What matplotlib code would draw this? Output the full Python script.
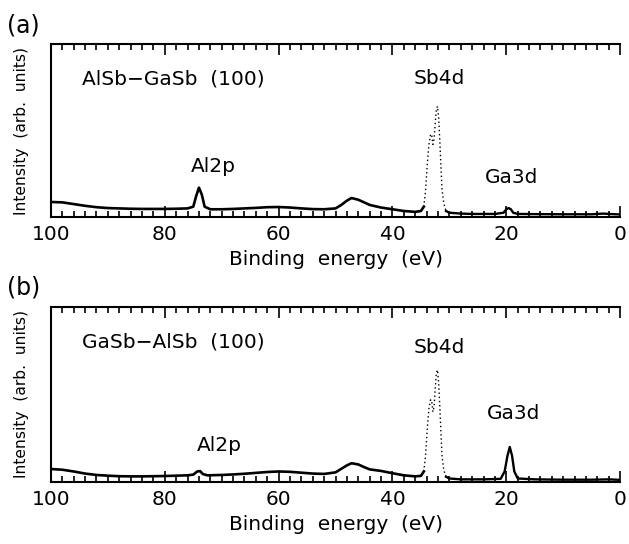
import matplotlib
matplotlib.use("Agg")
import matplotlib.pyplot as plt
from matplotlib.ticker import MultipleLocator

# ---- data (intensity in fraction of panel height) ----
# panel (a): AlSb-GaSb (100), solid background part
energy_a = [100, 98, 96, 94, 92, 90, 88, 86, 84, 82, 80, 78, 76, 75, 74.5, 74, 73.5, 73,
            72, 70, 68, 66, 64, 62, 60, 58, 56, 54, 52, 50, 49, 48, 47.2, 46, 45, 44,
            42, 40, 38, 36, 35, 34.5]
intens_a = [0.087, 0.085, 0.075, 0.065, 0.057, 0.052, 0.050, 0.048, 0.047, 0.047, 0.047,
            0.048, 0.050, 0.060, 0.120, 0.170, 0.130, 0.060, 0.045, 0.045, 0.047, 0.050,
            0.053, 0.057, 0.058, 0.055, 0.050, 0.046, 0.045, 0.050, 0.070, 0.095, 0.110,
            0.100, 0.085, 0.070, 0.055, 0.045, 0.035, 0.030, 0.035, 0.060]
# Sb4d region (drawn dotted in the original)
sb_energy_a = [34.5, 34.2, 33.9, 33.6, 33.3, 33.1, 32.9, 32.7, 32.5, 32.3, 32.1, 31.9,
               31.7, 31.5, 31.3, 31.0, 30.6]
sb_intens_a = [0.060, 0.150, 0.300, 0.420, 0.480, 0.470, 0.420, 0.450, 0.540, 0.620,
               0.640, 0.580, 0.450, 0.300, 0.160, 0.080, 0.035]
tail_energy_a = [30.6, 30, 28, 26, 24, 22, 20.5, 20, 19.6, 19.2, 18.8, 18, 15, 10, 5, 3, 2, 0]
tail_intens_a = [0.035, 0.025, 0.020, 0.018, 0.018, 0.018, 0.025, 0.045, 0.052, 0.045,
                 0.025, 0.018, 0.017, 0.016, 0.016, 0.020, 0.018, 0.015]

# panel (b): GaSb-AlSb (100)
energy_b = [100, 98, 96, 94, 92, 90, 88, 86, 84, 82, 80, 78, 76, 75, 74.3, 73.8, 73.3,
            72.5, 70, 68, 66, 64, 62, 60, 58, 56, 54, 52, 50, 49, 48, 47.2, 46, 45, 44,
            42, 40, 38, 36, 35, 34.5]
intens_b = [0.074, 0.070, 0.060, 0.048, 0.040, 0.036, 0.033, 0.032, 0.032, 0.033, 0.034,
            0.036, 0.038, 0.042, 0.060, 0.062, 0.045, 0.038, 0.040, 0.043, 0.047, 0.052,
            0.057, 0.060, 0.058, 0.053, 0.048, 0.046, 0.055, 0.075, 0.095, 0.107, 0.100,
            0.085, 0.072, 0.063, 0.050, 0.038, 0.032, 0.035, 0.060]
sb_energy_b = [34.5, 34.2, 33.9, 33.6, 33.3, 33.1, 32.9, 32.7, 32.5, 32.3, 32.1, 31.9,
               31.7, 31.5, 31.3, 31.0, 30.6]
sb_intens_b = [0.060, 0.150, 0.300, 0.420, 0.470, 0.460, 0.400, 0.430, 0.530, 0.620,
               0.640, 0.570, 0.440, 0.290, 0.150, 0.070, 0.030]
tail_energy_b = [30.6, 30, 28, 24, 21, 20.3, 19.8, 19.4, 19, 18.6, 18, 15, 10, 5, 2, 0]
tail_intens_b = [0.030, 0.020, 0.015, 0.015, 0.018, 0.060, 0.150, 0.200, 0.150, 0.060,
                 0.020, 0.015, 0.013, 0.013, 0.015, 0.012]

titles = ["AlSb\u2212GaSb  (100)", "GaSb\u2212AlSb  (100)"]
panel_tags = ["(a)", "(b)"]
# label positions (energy, intensity) for each panel
peak_labels_a = [("Al2p", 71.5, 0.29), ("Sb4d", 31.8, 0.80), ("Ga3d", 19.0, 0.23)]
peak_labels_b = [("Al2p", 70.5, 0.21), ("Sb4d", 31.8, 0.77), ("Ga3d", 18.8, 0.39)]

plt.rcParams["font.family"] = "DejaVu Sans"

fig = plt.figure(figsize=(6.29, 5.44), dpi=100)
ax_a = fig.add_axes([0.081, 0.601, 0.905, 0.318])
ax_b = fig.add_axes([0.081, 0.114, 0.905, 0.322])

panels = [
    (ax_a, energy_a, intens_a, sb_energy_a, sb_intens_a, tail_energy_a, tail_intens_a, peak_labels_a),
    (ax_b, energy_b, intens_b, sb_energy_b, sb_intens_b, tail_energy_b, tail_intens_b, peak_labels_b),
]

for i, (ax, e, y, se, sy, te, ty, labels) in enumerate(panels):
    ax.plot(e, y, color="black", lw=1.9)
    ax.plot(se, sy, color="black", lw=1.0, ls=(0, (1, 2)))
    ax.plot(te, ty, color="black", lw=1.7)

    ax.set_xlim(100, 0)
    ax.set_ylim(0, 1)
    ax.xaxis.set_major_locator(MultipleLocator(20))
    ax.xaxis.set_minor_locator(MultipleLocator(2))
    ax.tick_params(axis="x", which="both", direction="in", top=True, bottom=True,
                   width=1.2, labelsize=14.5, pad=6)
    ax.tick_params(axis="x", which="major", length=8)
    ax.tick_params(axis="x", which="minor", length=4)
    ax.set_yticks([])
    ax.spines["right"].set_visible(False)
    for s in ["left", "top", "bottom"]:
        ax.spines[s].set_linewidth(1.5)

    ax.set_xlabel("Binding  energy  (eV)", fontsize=14.5, labelpad=4)
    ax.set_ylabel("Intensity  (arb.  units)", fontsize=11.2, labelpad=16)

    ax.text(0.055, 0.80, titles[i], transform=ax.transAxes, fontsize=14.5, va="center")
    for name, x, yy in labels:
        ax.text(x, yy, name, fontsize=14.5, ha="center", va="center")

    ax.text(-0.078, 1.11, panel_tags[i], transform=ax.transAxes, fontsize=17,
            ha="left", va="center")

fig.savefig("out.png", dpi=100)
